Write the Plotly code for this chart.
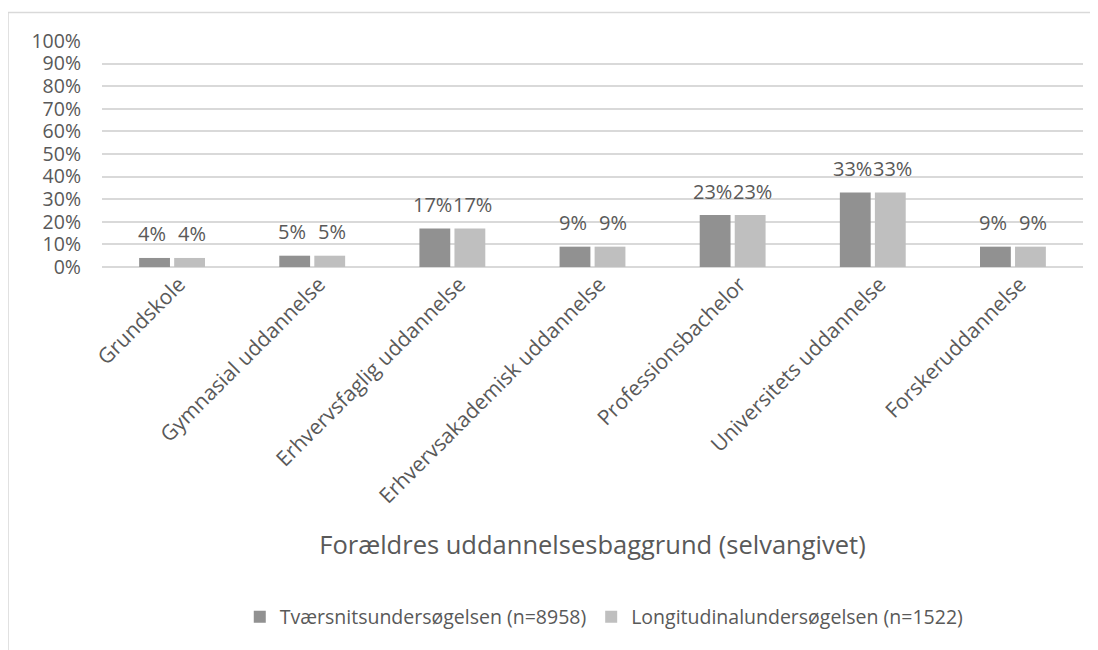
import plotly.graph_objects as go

categories = ["Grundskole", "Gymnasial uddannelse", "Erhvervsfaglig uddannelse",
              "Erhvervsakademisk uddannelse", "Professionsbachelor",
              "Universitets uddannelse", "Forskeruddannelse"]
tvaer = [0.04, 0.05, 0.17, 0.09, 0.23, 0.33, 0.09]
longi = [0.04, 0.05, 0.17, 0.09, 0.23, 0.33, 0.09]
series_names = ["Tværsnitsundersøgelsen (n=8958)", "Longitudinalundersøgelsen (n=1522)"]

FONT = "Open Sans"
TXT = "#595959"

fig = go.Figure()
fig.add_trace(go.Bar(x=categories, y=tvaer, name=series_names[0],
                     marker=dict(color="#919191", line_width=0)))
fig.add_trace(go.Bar(x=categories, y=longi, name=series_names[1],
                     marker=dict(color="#bfbfbf", line_width=0)))

# data labels sit a little above the bars
for vals, shift in [(tvaer, -20), (longi, 20)]:
    for c, v in zip(categories, vals):
        fig.add_annotation(x=c, y=v, text=f"{round(v*100)}%", showarrow=False,
                           xshift=shift, yshift=24, yanchor="middle",
                           font=dict(family=FONT, size=20, color=TXT))

# light frame (top and left edge visible)
fig.add_shape(type="line", xref="paper", yref="paper", x0=-0.0958, x1=1.2, y0=1.126, y1=1.126,
              line=dict(color="#d9d9d9", width=1.5))
fig.add_shape(type="line", xref="paper", yref="paper", x0=-0.0958, x1=-0.0958, y0=-2.0, y1=1.126,
              line=dict(color="#d9d9d9", width=1.5))

fig.update_layout(
    width=1090, height=642,
    margin=dict(l=94, r=15, t=33, b=383, autoexpand=False),
    plot_bgcolor="white", paper_bgcolor="white",
    barmode="group", bargap=0.5, bargroupgap=0.12,
    font=dict(family=FONT, size=20, color=TXT),
    legend=dict(orientation="h", x=0.512, xanchor="center", y=-1.549, yanchor="middle",
                font=dict(family=FONT, size=19.5, color=TXT), traceorder="normal"),
    xaxis=dict(tickangle=-45, showgrid=False, showline=False, ticks="",
               tickfont=dict(family=FONT, size=21, color=TXT),
               ticklabelshift=7,
               title=dict(text="Forældres uddannelsesbaggrund (selvangivet)",
                          font=dict(family=FONT, size=25.5, color=TXT), standoff=28),
               automargin=False),
    yaxis=dict(range=[0, 1], dtick=0.1, tickformat=".0%", showgrid=True,
               gridcolor="#d9d9d9", gridwidth=1.5, zeroline=True, zerolinecolor="#d9d9d9",
               zerolinewidth=1.5, ticks="", ticklabelstandoff=20,
               tickfont=dict(family=FONT, size=19.5, color=TXT), automargin=False),
)

fig.write_html("out.html")
